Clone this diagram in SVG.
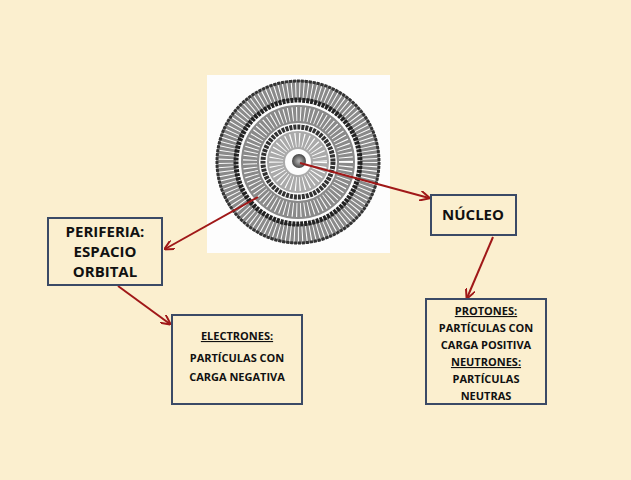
<svg xmlns="http://www.w3.org/2000/svg" width="631" height="480" viewBox="0 0 631 480">
<style>
.box{fill:none;stroke:#3b4a66;stroke-width:2}
.t{font-family:"Open Sans","Liberation Sans",sans-serif;font-weight:bold;fill:#111;text-anchor:middle}
.s{font-size:11px}
.b{font-size:15px}
.ring{fill:none}
.c{stroke:#a01818;stroke-width:2;fill:none;marker-end:url(#ah)}
</style>
<defs>
<marker id="ah" markerWidth="10" markerHeight="10" refX="9" refY="5" orient="auto" markerUnits="userSpaceOnUse"><path d="M0,0 L10,5 L0,10" fill="none" stroke="#a01818" stroke-width="2"/></marker>
<radialGradient id="nuc"><stop offset="0" stop-color="#bbb"/><stop offset="1" stop-color="#444"/></radialGradient>
</defs>
<rect width="631" height="480" fill="#fbefcf"/>
<g id="atom">
<rect x="207" y="75" width="183" height="178" fill="#fdfdfd"/>
<circle cx="298" cy="162" r="72" stroke="#8a8a8a" stroke-width="20" class="ring"/>
<circle cx="298" cy="162" r="72" stroke="#fff" stroke-width="16" stroke-dasharray="1 3" class="ring"/>
<circle cx="298" cy="162" r="81" stroke="#333" stroke-width="3" stroke-dasharray="3 1" class="ring"/>
<circle cx="298" cy="162" r="62" stroke="#222" stroke-width="5" stroke-dasharray="3 1" class="ring"/>
<circle cx="298" cy="162" r="48" stroke="#8a8a8a" stroke-width="18" class="ring"/>
<circle cx="298" cy="162" r="48" stroke="#fff" stroke-width="14" stroke-dasharray="1 3" class="ring"/>
<circle cx="298" cy="162" r="35" stroke="#333" stroke-width="5" stroke-dasharray="3 1" class="ring"/>
<circle cx="298" cy="162" r="22" stroke="#aaa" stroke-width="18" class="ring"/>
<circle cx="298" cy="162" r="22" stroke="#fff" stroke-width="14" stroke-dasharray="1 3" class="ring"/>
<circle cx="299" cy="161" r="7" fill="url(#nuc)"/>
</g>
<g id="connectors">
<path class="c" d="M300,163 L429,198"/>
<path class="c" d="M258,197 L165,249"/>
<path class="c" d="M118,286 L170,324"/>
<path class="c" d="M493,237 L467,298"/>
</g>
<g id="periferia"><rect class="box" x="48" y="218" width="114" height="67"/>
<text class="t b" x="105" y="237">PERIFERIA:</text><text class="t b" x="105" y="257">ESPACIO</text><text class="t b" x="105" y="277">ORBITAL</text></g>
<g id="nucleo"><rect class="box" x="431" y="195" width="85" height="40"/>
<text class="t b" x="473" y="220">NÚCLEO</text></g>
<g id="electrones"><rect class="box" x="172" y="315" width="130" height="89"/>
<text class="t s" x="237" y="340" text-decoration="underline">ELECTRONES:</text><text class="t s" x="237" y="362">PARTÍCULAS  CON</text><text class="t s" x="237" y="381">CARGA NEGATIVA</text></g>
<g id="protones"><rect class="box" x="426" y="299" width="120" height="105"/>
<text class="t s" x="486" y="315" text-decoration="underline">PROTONES:</text><text class="t s" x="486" y="332">PARTÍCULAS  CON</text><text class="t s" x="486" y="349">CARGA POSITIVA</text><text class="t s" x="486" y="366" text-decoration="underline">NEUTRONES:</text><text class="t s" x="486" y="383">PARTÍCULAS</text><text class="t s" x="486" y="400">NEUTRAS</text></g>
</svg>
